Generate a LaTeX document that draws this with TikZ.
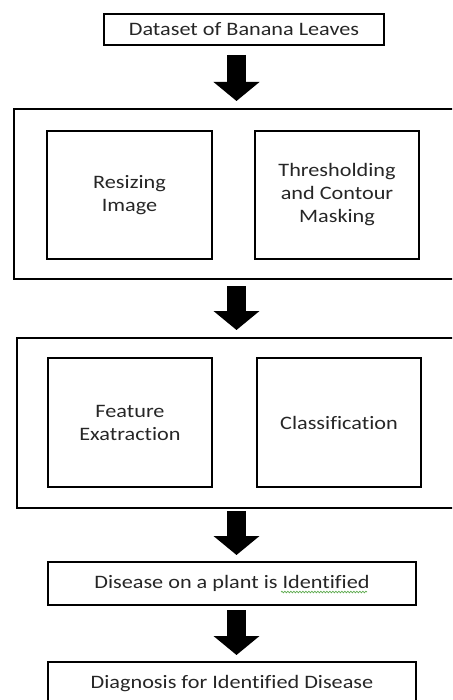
\documentclass[tikz,border=0pt]{standalone}
\usepackage{fontspec}
\setmainfont{Carlito}[FakeStretch=1.17,Ligatures=NoCommon]
\usetikzlibrary{arrows.meta,decorations.pathmorphing}
\definecolor{txt}{HTML}{262626}
\definecolor{squig}{HTML}{5DAA4E}
\begin{document}
\begin{tikzpicture}[x=1pt,y=-1pt,
  box/.style={draw=black,line width=2.6pt,align=center,text=txt,
    font=\fontsize{19}{23}\selectfont,inner sep=0pt,outer sep=0pt},
  bigarrow/.style={line width=19pt,-{Triangle[length=19pt,width=45pt]}}]
\useasboundingbox (0,0) rectangle (452,700);
\clip (0,0) rectangle (452,700);

% input
\node[box,minimum width=280pt,minimum height=31pt] (data) at (244,29.5) {Dataset of Banana Leaves};

% preprocessing stage
\node[box,minimum width=456pt,minimum height=170pt] (pre) at (242,194) {};
\node[box,minimum width=165pt,minimum height=128pt] (resize) at (129.5,195) {Resizing\\Image};
\node[box,minimum width=164pt,minimum height=128pt] (thresh) at (337,195) {Thresholding\\and Contour\\Masking};

% learning stage
\node[box,minimum width=453pt,minimum height=170pt] (learn) at (243.5,423) {};
\node[box,minimum width=164pt,minimum height=129pt] (feat) at (130,422.5) {Feature\\Exatraction};
\node[box,minimum width=164pt,minimum height=129pt] (classif) at (339,422.5) {Classification};

% results
\node[box,minimum width=368pt,minimum height=43pt] (ident) at (232,583.5) {Disease on a plant is Identified};
\node[box,minimum width=368pt,minimum height=43pt] (diag) at (232,683.5) {Diagnosis for Identified Disease};

% spell-check squiggle
\draw[squig,line width=0.7pt,decorate,decoration={snake,amplitude=0.8pt,segment length=3pt}]
  (281,592) -- (367,592);

% flow arrows
\coordinate (ax) at (236.5,0);
\draw[bigarrow,shorten <=10pt,shorten >=8pt] (data.south -| ax) -- (pre.north -| ax);
\draw[bigarrow,shorten <=7pt,shorten >=8pt] (pre.south -| ax) -- (learn.north -| ax);
\draw[bigarrow,shorten <=3pt,shorten >=7pt] (learn.south -| ax) -- (ident.north -| ax);
\draw[bigarrow,shorten <=5pt,shorten >=7pt] (ident.south -| ax) -- (diag.north -| ax);
\end{tikzpicture}
\end{document}
